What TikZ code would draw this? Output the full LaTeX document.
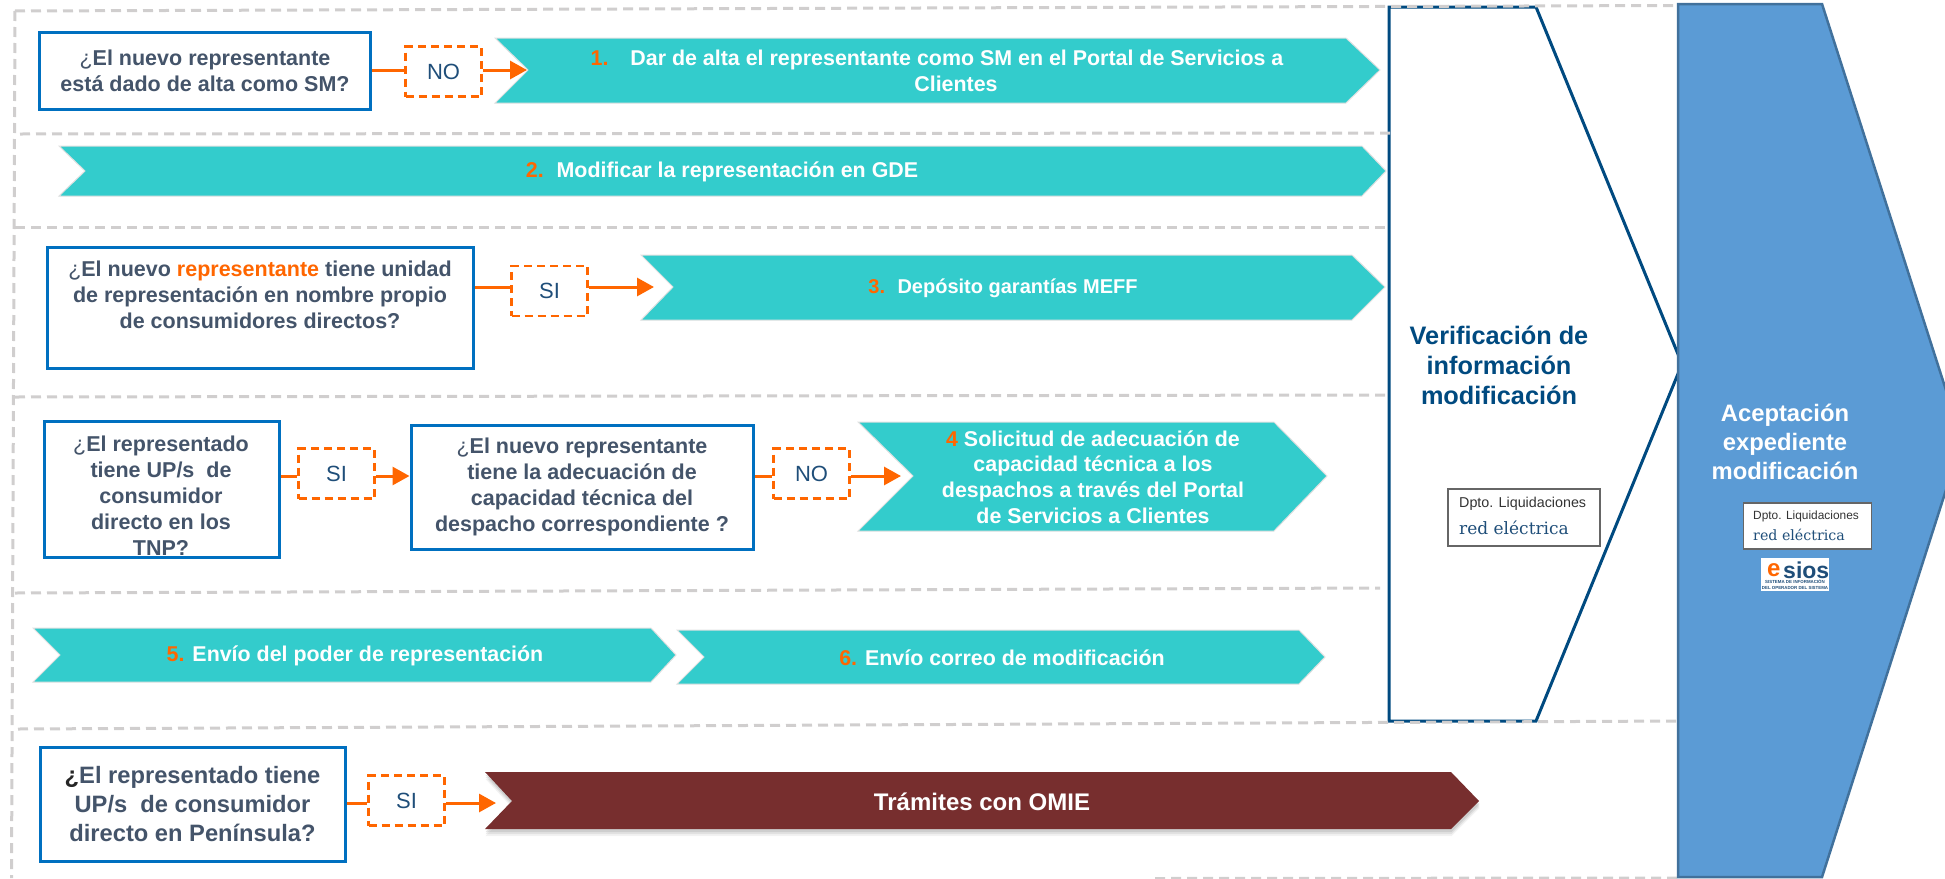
\documentclass[tikz,border=0pt]{standalone}
\usepackage{fontspec}
\setmainfont{Liberation Sans}
\newfontfamily\slabfont{DejaVu Serif}
\usepackage{tikz}
\usetikzlibrary{arrows.meta}
\usetikzlibrary{shadows}
\definecolor{tealfill}{HTML}{33CCCC}
\definecolor{wine}{HTML}{772E2E}
\definecolor{boxblue}{HTML}{0070C0}
\definecolor{slate}{HTML}{44546A}
\definecolor{sec}{HTML}{D0CECE}
\definecolor{navy}{HTML}{004A80}
\definecolor{deep}{HTML}{1F4E79}
\definecolor{orng}{HTML}{FF6600}
\definecolor{stepblue}{HTML}{5B9BD5}
\definecolor{stepedge}{HTML}{41719C}
\newcommand{\num}[1]{{\color{orng}#1}}
\newcommand{\thin}{{\mdseries ¿}}

\begin{document}
\begin{tikzpicture}
    [
    x=1pt,y=-1pt,
    sect/.style = {color=sec,line width=3pt,dash pattern=on 10pt off 6pt},
    qbox/.style = {draw=boxblue,line width=3pt,fill=white,align=center,inner sep=0pt,text=slate,font=\fontsize{21.5}{26}\selectfont\bfseries},
    qtext/.style = {qbox,draw=none,fill=none},
    answer/.style = {draw=orng,line width=2.8pt,dash pattern=on 8pt off 5pt,minimum width=76pt,minimum height=50pt,inner sep=0pt,text=deep,font=\fontsize{22}{24}\selectfont},
    chev/.style = {fill=tealfill,draw=black!12,line width=1pt},
    chevtext/.style = {align=center,inner sep=0pt,text=white,font=\fontsize{21.4}{25.6}\selectfont\bfseries},
    link/.style = {color=orng,line width=3pt},
    linkto/.style = {link,-{Triangle[length=17pt,width=18pt]}},
    big/.style = {align=center,inner sep=0pt,font=\fontsize{25.3}{30}\selectfont\bfseries},
    dept/.style = {draw=black!60,line width=1.2pt,fill=white,inner sep=0pt}
    ]
\clip (0,0) rectangle (1945,878);
\useasboundingbox (0,0) rectangle (1945,878);

\draw[draw=navy,line width=3pt,fill=white] (1389,7) -- (1536,7) -- (1682,364) -- (1536,721) -- (1389,721) -- cycle;

% sections
\draw[sect] (15,11) -- (1675,5.5);
\draw[sect] (20,134) -- (1390,133);
\draw[sect] (15,227) -- (1388,227);
\draw[sect] (15,397) -- (1388,395);
\draw[sect] (15,593) -- (1380,588);
\draw[sect] (18,729) -- (1677,721);
\draw[sect] (1155,878.5) -- (1680,878);
\draw[sect] (15,11) -- (11.5,878);

\draw[draw=stepedge,line width=2.5pt,fill=stepblue] (1678,4) -- (1822,4) -- (1962,440) -- (1822,877) -- (1678,877) -- cycle;

% row 1
\node[qbox,minimum width=331pt,minimum height=77pt] (q1) at (205,70.5) {\thin El nuevo representante\\está dado de alta como SM?};
\node[answer] (a1) at (443.5,71.5) {NO};
\draw[chev] (495,38) -- (1346,38) -- (1380,70) -- (1346,103) -- (495,103) -- (528,70) -- cycle;
\coordinate (c1) at (527,70);
\node[chevtext] (s1) at (937,71) {\num{1.}\hspace{22pt}Dar de alta el representante como SM en el Portal de Servicios a\\\hspace*{38pt}Clientes};
\draw[link] (q1.east |- c1) -- (c1 -| a1.west);
\draw[linkto] (c1 -| a1.east) -- (c1);

% row 2
\draw[chev] (59,146) -- (1362,146) -- (1386,171) -- (1362,196) -- (59,196) -- (85,171) -- cycle;
\node[chevtext] (s2) at (722,172) {\num{2.}\hspace{5pt} Modificar la representación en GDE};

% row 3
\node[qbox,minimum width=426pt,minimum height=121pt] (q3) at (260,307.5) {\thin El nuevo {\color{orng}representante} tiene unidad\\de representación en nombre propio\\de consumidores directos?\\~};
\node[answer] (a3) at (549.5,291) {SI};
\draw[chev] (641,255) -- (1352,255) -- (1385,287) -- (1352,320) -- (641,320) -- (673,287) -- cycle;
\coordinate (c3) at (654,287);
\node[chevtext,font=\fontsize{20}{25}\selectfont\bfseries] (s3) at (1003,288) {\num{3.}\hspace{5pt} Depósito garantías MEFF};
\draw[link] (q3.east |- c3) -- (c3 -| a3.west);
\draw[linkto] (c3 -| a3.east) -- (c3);

% row 4
\node[qbox,minimum width=235pt,minimum height=136pt] (q4) at (161.5,489) {};
\node[qtext] (q4t) at (161,496) {\thin El representado\\tiene UP/s~ de\\consumidor\\directo en los\\TNP?};
\node[answer] (a4) at (336.5,473.5) {SI};
\node[qbox,minimum width=342pt,minimum height=124pt] (q5) at (582,487) {\thin El nuevo representante\\tiene la adecuación de\\capacidad técnica del\\despacho correspondiente ?};
\node[answer] (a5) at (811.5,473.5) {NO};
\draw[chev] (858,422) -- (1274,422) -- (1327,476) -- (1274,531) -- (858,531) -- (913,476) -- cycle;
\coordinate (c5) at (901,476);
\node[chevtext] (s4) at (1093,477) {\num{4} Solicitud de adecuación de\\capacidad técnica a los\\despachos a través del Portal\\de Servicios a Clientes};
\draw[link] (q4.east |- c5) -- (c5 -| a4.west);
\draw[linkto] (c5 -| a4.east) -- (q5.west |- c5);
\draw[link] (q5.east |- c5) -- (c5 -| a5.west);
\draw[linkto] (c5 -| a5.east) -- (c5);

% row 5
\draw[chev] (33,628) -- (651,628) -- (676,655) -- (651,682) -- (33,682) -- (60,655) -- cycle;
\node[chevtext] (s5) at (355,656) {\num{5.} Envío del poder de representación};
\draw[chev] (677,630) -- (1299,630) -- (1325,657) -- (1299,684) -- (677,684) -- (704,657) -- cycle;
\node[chevtext] (s6) at (1002,658) {\num{6.} Envío correo de modificación};

% row 6
\node[qbox,minimum width=305pt,minimum height=114pt,font=\fontsize{23.7}{29}\selectfont\bfseries] (q7) at (192.5,804) {{\color{black!85}¿}El representado tiene\\UP/s~ de consumidor\\directo en Península?};
\node[answer] (a7) at (406.5,800.5) {SI};
\draw[chev,draw=none,fill=wine,
    drop shadow={shadow xshift=0.5pt,shadow yshift=-7pt,opacity=.1},
    drop shadow={shadow xshift=0.5pt,shadow yshift=-5pt,opacity=.15},
    drop shadow={shadow xshift=0.5pt,shadow yshift=-3pt,opacity=.2}] (485,772) -- (1451,772) -- (1479,801) -- (1451,829) -- (485,829) -- (512,801) -- cycle;
\coordinate (c7) at (496,803);
\node[chevtext,font=\fontsize{24}{26}\selectfont\bfseries] (s7) at (982,802) {Trámites con OMIE};
\draw[link] (q7.east |- c7) -- (c7 -| a7.west);
\draw[linkto] (c7 -| a7.east) -- (c7);

% right side
\node[big,text=navy] (verif) at (1499,365) {Verificación de\\información\\modificación};
\node[big,text=white,font=\fontsize{23.8}{29}\selectfont\bfseries] (acept) at (1785,442) {Aceptación\\expediente\\modificación};
\node[dept,minimum width=152pt,minimum height=57pt] (dpto1) at (1524,517.5) {};
\node[anchor=west,inner sep=0pt,text=black!80,font=\fontsize{14.3}{15}\selectfont] (d1a) at (1459,504) {Dpto. Liquidaciones};
\node[anchor=west,inner sep=0pt,text=deep,font=\fontsize{17}{15}\slabfont] (d1b) at (1459,528) {red eléctrica};
\node[dept,minimum width=128pt,minimum height=46pt] (dpto2) at (1807.5,526) {};
\node[anchor=west,inner sep=0pt,text=black!80,font=\fontsize{11.9}{13}\selectfont] (d2a) at (1753,516) {Dpto. Liquidaciones};
\node[anchor=west,inner sep=0pt,text=deep,font=\fontsize{14.2}{13}\slabfont] (d2b) at (1753,535) {red eléctrica};
\node[fill=white,minimum width=68pt,minimum height=33pt,inner sep=0pt] (esios) at (1795,574.5) {};
\node[anchor=west,inner sep=0pt,text=orng,font=\fontsize{24}{24}\selectfont\bfseries] (e1) at (1767,570) {e};
\node[anchor=west,inner sep=0pt,text=deep,font=\fontsize{23}{23}\selectfont\bfseries] (e2) at (1783,570) {sios};
\node[align=center,inner sep=0pt,text=deep,font=\fontsize{4.4}{6}\selectfont\bfseries] (e3) at (1795,585) {SISTEMA DE INFORMACIÓN\\DEL OPERADOR DEL SISTEMA};
\end{tikzpicture}
\end{document}
